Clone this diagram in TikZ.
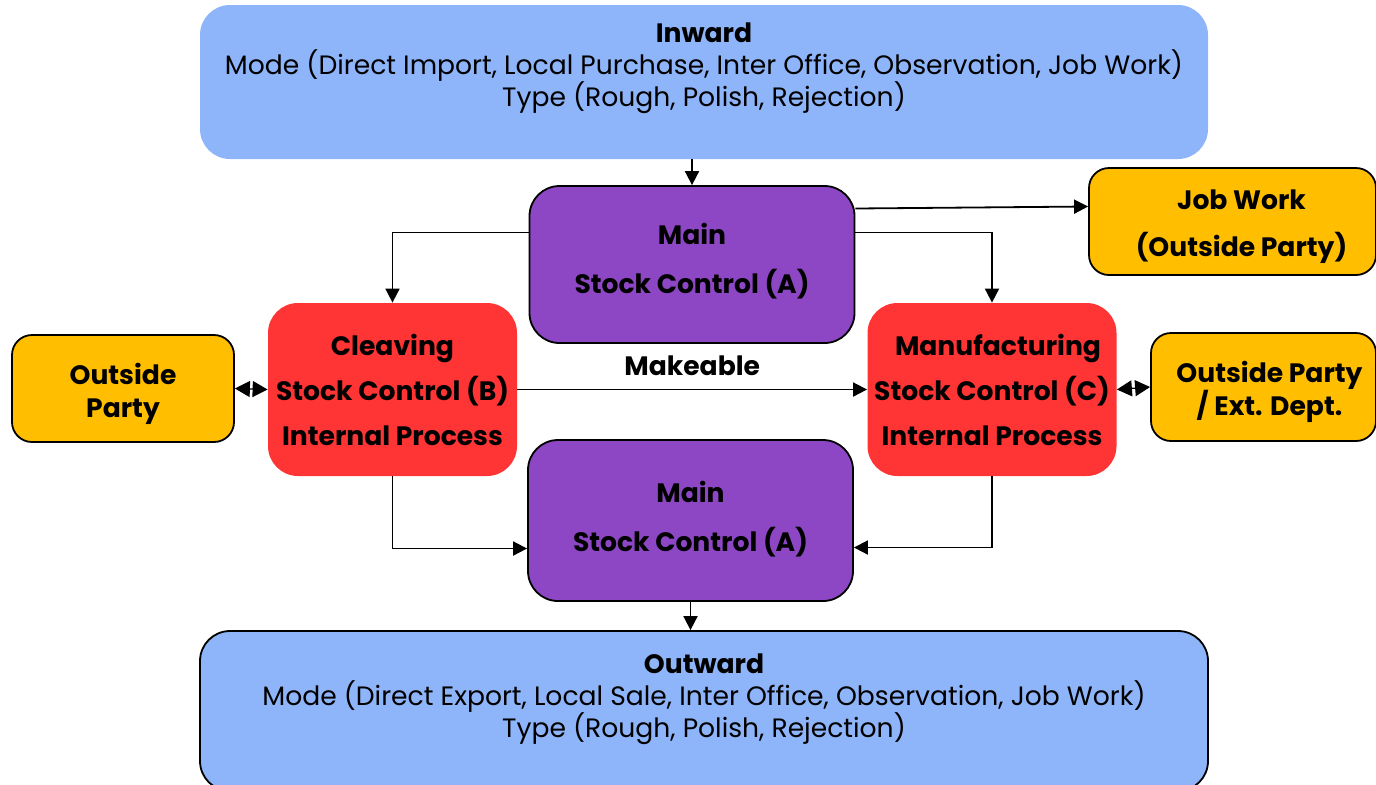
\documentclass[tikz,border=0pt]{standalone}
\usepackage{fontspec}
\setmainfont{Poppins}
\usetikzlibrary{positioning,arrows.meta}
\definecolor{flowblue}{HTML}{8EB4F9}
\definecolor{stockpurple}{HTML}{8D47C5}
\definecolor{procred}{HTML}{FF3434}
\definecolor{partyyellow}{HTML}{FFBF00}

\begin{document}
\begin{tikzpicture}[x=0.5pt, y=-0.5pt,
    box/.style={rounded corners=15pt, inner sep=0pt, align=center, font=\bfseries\fontsize{13.3}{24.5}\selectfont},
    flow/.style={box, fill=flowblue, minimum width=504pt},
    stock/.style={box, draw=black, line width=0.9pt, fill=stockpurple, minimum width=162.5pt},
    proc/.style={box, fill=procred, minimum width=124.5pt, minimum height=86.5pt, font=\bfseries\fontsize{13.3}{22.5}\selectfont},
    party/.style={box, rounded corners=10pt, draw=black, line width=0.9pt, fill=partyyellow},
    flowtext/.style={align=center, font=\fontsize{13.3}{16}\selectfont},
    arr/.style={line width=0.9pt, -{Triangle[length=7pt,width=7pt]}},
    both/.style={line width=0.6pt, {Triangle[length=7.5pt,width=8pt]}-{Triangle[length=7.5pt,width=8pt]}}
]
    \useasboundingbox (0,0) rectangle (1376,784);

    % Inward
    \node[flow, minimum height=77pt] (inward) at (704,82) {};
    \node[flowtext] (inwardtext) at (704,68)
        {\textbf{Inward}\\Mode (Direct Import, Local Purchase, Inter Office, Observation, Job Work)\\Type (Rough, Polish, Rejection)};

    % Main stock (top)
    \node[stock, minimum height=78.5pt] (maintop) at (692,264.5) {Main\\Stock Control (A)\rule[-6pt]{0pt}{0pt}};

    % Job work
    \node[party, minimum width=143.5pt, minimum height=53.5pt, font=\bfseries\fontsize{13.3}{23.5}\selectfont] (jobwork) at (1232.5,221.5)
        {\rule{0pt}{15pt}\hspace*{9pt}Job Work\\\hspace*{9pt}(Outside Party)};

    % Process blocks
    \node[proc] (cleaving) at (392.5,389.5) {Cleaving\\Stock Control (B)\\Internal Process};
    \node[proc] (manuf) at (992,389.5) {\hspace*{6pt}Manufacturing\\Stock Control (C)\\Internal Process};

    % Outside parties
    \node[party, minimum width=111pt, minimum height=53.5pt, font=\bfseries\fontsize{13.3}{16.5}\selectfont] (outleft) at (123,388.5) {\rule{0pt}{16pt}Outside\\Party};
    \node[party, minimum width=112.5pt, minimum height=54pt, font=\bfseries\fontsize{13.3}{16.5}\selectfont] (outright) at (1263.5,387) {\rule{0pt}{16pt}\hspace*{6pt}Outside Party\\\hspace*{6pt}/ Ext. Dept.};

    % Main stock (bottom)
    \node[stock, minimum height=80.5pt] (mainbot) at (690.5,520.5) {Main\\Stock Control (A)\rule[-4pt]{0pt}{0pt}};

    % Outward
    \node[flow, draw=black, line width=0.9pt, minimum height=80pt] (outward) at (704,711) {};
    \node[flowtext] (outwardtext) at (704,699)
        {\textbf{Outward}\\Mode (Direct Export, Local Sale, Inter Office, Observation, Job Work)\\Type (Rough, Polish, Rejection)};

    % Connectors
    \draw[arr] (inward.south -| maintop.north) -- (maintop.north);
    \draw[arr] ([yshift=28pt]maintop.east) -- ([yshift=7.5pt]jobwork.west);
    \draw[arr] ([yshift=16pt]maintop.west) -| (cleaving.north);
    \draw[arr] ([yshift=16pt]maintop.east) -| (manuf.north);
    \draw[arr] (cleaving.east) -- (manuf.west)
        node[midway, above=3pt, font=\bfseries\fontsize{13.3}{15}\selectfont] (makeable) {Makeable};
    \draw[both] (outleft.east) -- (cleaving.west);
    \draw[both] (manuf.east) -- (outright.west);
    \draw[arr] (cleaving.south) |- ([yshift=-14pt]mainbot.west);
    \draw[arr] (manuf.south) |- ([yshift=-13.5pt]mainbot.east);
    \draw[arr] (mainbot.south) -- (mainbot.south |- outward.north);
\end{tikzpicture}
\end{document}
